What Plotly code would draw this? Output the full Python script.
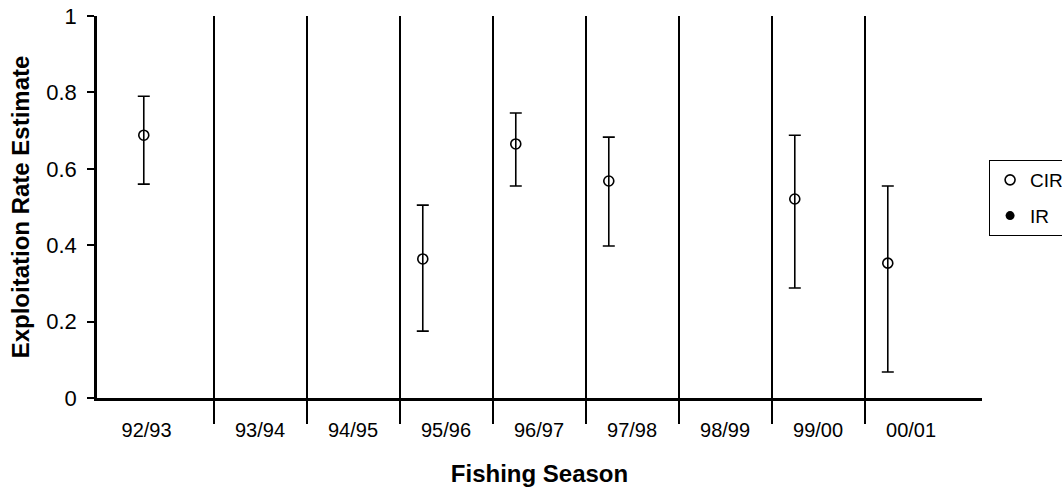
import plotly.graph_objects as go

seasons = ["92/93", "93/94", "94/95", "95/96", "96/97", "97/98", "98/99", "99/00", "00/01"]
cir_est = [0.688, None, None, 0.364, 0.665, 0.568, None, 0.521, 0.353]
cir_upper = [0.790, None, None, 0.505, 0.746, 0.683, None, 0.688, 0.555]
cir_lower = [0.560, None, None, 0.175, 0.555, 0.398, None, 0.288, 0.068]
y_ticks = [0, 0.2, 0.4, 0.6, 0.8, 1]

FONT = "Liberation Sans, Arial, sans-serif"
idx = list(range(len(seasons)))
x_cir = [i - 0.25 for i in idx]
err_plus = [(u - v) if v is not None else None for u, v in zip(cir_upper, cir_est)]
err_minus = [(v - l) if v is not None else None for l, v in zip(cir_lower, cir_est)]
# first season label sits a little left of its slot centre in the original
label_pos = [i - 0.22 if i == 0 else i for i in idx]

fig = go.Figure()
fig.add_trace(go.Scatter(
    x=x_cir, y=cir_est, mode="markers", name="CIR", legendgroup="a",
    marker=dict(symbol="circle-open", size=10, color="black", line=dict(width=1.6, color="black")),
    error_y=dict(type="data", array=err_plus, arrayminus=err_minus, symmetric=False,
                 color="black", thickness=1.6, width=6),
))
fig.add_trace(go.Scatter(
    x=[None], y=[None], mode="markers", name="IR", legendgroup="b",
    marker=dict(symbol="circle", size=9, color="black"),
))

fig.update_layout(
    width=1062, height=487,
    margin=dict(l=97, r=80, t=16, b=89, autoexpand=False),
    paper_bgcolor="white", plot_bgcolor="white",
    font=dict(family=FONT, color="black", size=20),
    showlegend=True,
    legend=dict(x=1.008, y=0.623, xanchor="left", yanchor="top",
                bordercolor="black", borderwidth=1, font=dict(size=19),
                tracegroupgap=8, bgcolor="white"),
)
fig.update_xaxes(
    range=[-0.753, 8.763],
    tickmode="array", tickvals=label_pos, ticktext=seasons,
    ticks="", showgrid=False, zeroline=False,
    showline=True, linecolor="black", linewidth=3,
    tickfont=dict(size=20), ticklabelstandoff=12, ticklabeloverflow="allow",
    minor=dict(tickmode="array", tickvals=[i + 0.5 for i in idx[:-1]],
               ticks="outside", ticklen=23, tickwidth=1.5, tickcolor="black",
               showgrid=True, gridcolor="black", gridwidth=1.5),
    title=dict(text="<b>Fishing Season</b>", font=dict(size=24), standoff=26),
)
fig.update_yaxes(
    range=[0, 1], tickmode="array", tickvals=y_ticks,
    ticks="outside", ticklen=7, tickwidth=2, tickcolor="black",
    showline=True, linecolor="black", linewidth=2.5,
    showgrid=False, zeroline=False,
    tickfont=dict(size=22), ticklabelstandoff=6, ticklabeloverflow="allow",
    title=dict(text="<b>Exploitation Rate Estimate</b>", font=dict(size=24), standoff=10),
)

fig.write_html("out.html", config={"displayModeBar": False},
               post_script="document.body.style.margin='0';")
